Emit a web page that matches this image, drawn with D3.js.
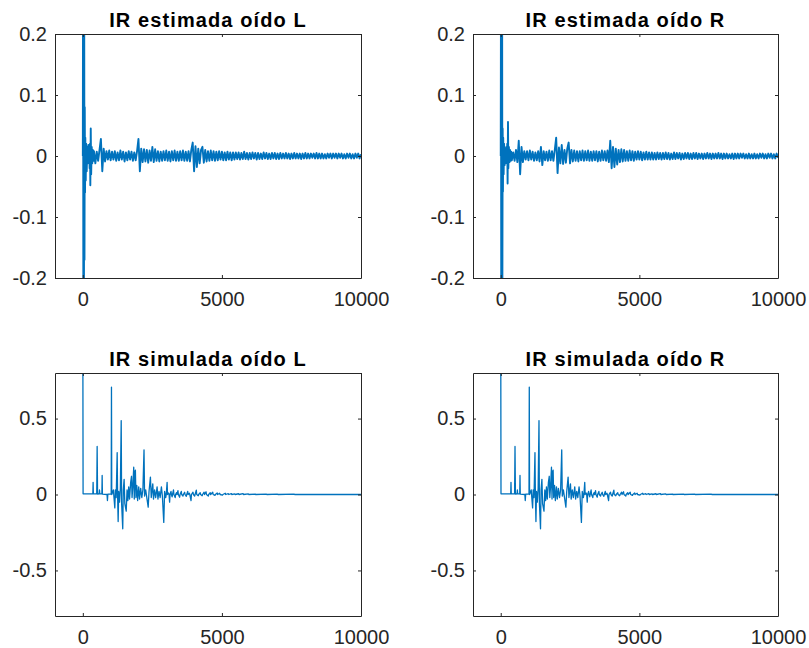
<!DOCTYPE html>
<html>
<head>
<meta charset="utf-8">
<script src="https://cdn.jsdelivr.net/npm/d3@7"></script>
<style>
  body { margin: 0; background: #fff; }
  text { font-family: "Liberation Sans", Arial, Helvetica, sans-serif; }
</style>
</head>
<body>
<div id="container"></div>
<script>
/* CONSTANTS AND GLOBALS */
const width = 809,
  height = 648;

const lineColor = "#0072BD",
  axisColor = "#262626";

// tick values / labels
const xTicks = [0, 5000, 10000];
const yTicksEst = [-0.2, -0.1, 0, 0.1, 0.2];
const yTicksSim = [-0.5, 0, 0.5];
const xDomain = [-1000, 10000];
const yDomainEst = [-0.2, 0.2];
const yDomainSim = [-0.8, 0.8];

const titles = ["IR estimada oído L", "IR estimada oído R", "IR simulada oído L", "IR simulada oído R"];

/* DATA */
// estimated IR, left ear: first samples as [sample, value]
const estLHead = [[0, 0], [10, 0.35], [20, -0.35], [30, 0.3], [40, -0.3], [50, 0.25], [60, -0.17], [70, 0.08],
  [80, -0.06], [90, 0.03], [105, -0.04], [120, 0.02], [140, -0.025], [160, 0.015], [180, -0.012], [200, 0.018],
  [215, -0.01], [230, 0.012], [245, -0.02], [258, 0.02], [270, -0.048], [285, 0.045], [300, -0.03], [320, 0.015],
  [340, -0.012], [360, 0.01], [380, -0.008]];
// rest of the left ear IR, one value every 50 samples from 400
const estLTail = [
  0.008, -0.012, 0.007, -0.008, 0.01, 0.028, -0.025, 0.012, -0.009, 0.008,
  -0.006, 0.009, -0.007, 0.007, -0.006, 0.008, -0.008, 0.006, -0.007, 0.009,
  -0.006, 0.007, -0.009, 0.006, -0.007, 0.008, -0.006, 0.007, -0.008, 0.006,
  -0.007, 0.008, 0.028, -0.025, 0.012, -0.01, 0.011, -0.009, 0.01, -0.011,
  0.009, -0.008, 0.015, -0.01, 0.011, -0.008, 0.008, -0.009, 0.007, -0.008,
  0.008, -0.007, 0.009, -0.008, 0.007, -0.009, 0.008, -0.007, 0.009, -0.008,
  0.007, -0.008, 0.008, -0.007, 0.009, -0.008, 0.007, -0.008, 0.008, -0.009,
  0.01, 0.022, -0.025, 0.016, -0.018, 0.012, -0.012, 0.01, 0.015, -0.011,
  0.01, -0.009, 0.008, -0.008, 0.009, -0.007, 0.008, -0.008, 0.007, -0.007,
  0.008, -0.006, 0.007, -0.007, 0.006, -0.007, 0.007, -0.006, 0.006, -0.007,
  0.006, -0.006, 0.006, -0.005, 0.006, -0.006, 0.005, -0.005, 0.007, -0.005,
  0.005, -0.006, 0.005, -0.005, 0.006, -0.004, 0.005, -0.006, 0.005, -0.005,
  0.004, -0.005, 0.006, -0.004, 0.005, -0.005, 0.004, -0.005, 0.005, -0.004,
  0.005, -0.005, 0.004, -0.005, 0.005, -0.004, 0.004, -0.004, 0.005, -0.004,
  0.004, -0.005, 0.004, -0.004, 0.005, -0.004, 0.004, -0.004, 0.004, -0.005,
  0.004, -0.004, 0.005, -0.004, 0.004, -0.004, 0.004, -0.003, 0.004, -0.004,
  0.005, -0.004, 0.004, -0.004, 0.004, -0.004, 0.003, -0.004, 0.004, -0.003,
  0.004, -0.004, 0.004, -0.003, 0.004, -0.004, 0.004, -0.003, 0.004, -0.004,
  0.003, -0.004, 0.004, -0.003, 0.004, -0.004, 0.003, -0.004, 0.004, -0.003,
  0.004, -0.004, 0.003
];

// estimated IR, right ear
const estRHead = [[0, 0], [10, 0.3], [20, -0.35], [30, 0.3], [40, -0.3], [50, 0.28], [60, -0.2], [70, 0.045],
  [80, -0.058], [90, 0.03], [105, -0.03], [120, 0.02], [140, -0.015], [160, 0.012], [180, -0.012], [200, 0.015],
  [220, -0.01], [235, 0.02], [248, -0.045], [262, 0.056], [275, -0.02], [295, 0.015], [315, -0.01], [335, 0.01],
  [355, -0.008], [378, 0.007]];
const estRTail = [
  -0.007, 0.006, -0.008, 0.01, -0.01, 0.025, -0.03, 0.015, -0.01, 0.008,
  -0.006, 0.008, -0.007, 0.009, -0.006, 0.007, -0.008, 0.006, -0.007, 0.008,
  -0.009, 0.015, -0.015, 0.008, -0.007, 0.007, -0.008, 0.009, -0.007, 0.008,
  -0.008, 0.01, 0.03, -0.028, 0.014, -0.012, 0.018, -0.013, 0.01, -0.011,
  0.012, 0.022, -0.012, 0.01, -0.009, 0.009, -0.008, 0.008, -0.009, 0.008,
  -0.007, 0.009, -0.008, 0.008, -0.007, 0.009, -0.008, 0.007, -0.008, 0.008,
  -0.007, 0.008, -0.009, 0.007, -0.008, 0.009, -0.007, 0.008, -0.008, 0.009,
  -0.01, 0.025, -0.02, 0.015, -0.018, 0.012, -0.014, 0.01, -0.01, 0.011,
  -0.009, 0.01, -0.008, 0.008, -0.008, 0.009, -0.007, 0.008, -0.008, 0.007,
  -0.006, 0.008, -0.006, 0.007, -0.007, 0.006, -0.006, 0.007, -0.006, 0.006,
  -0.006, 0.006, -0.006, 0.005, -0.006, 0.006, -0.005, 0.005, -0.006, 0.005,
  -0.005, 0.006, -0.005, 0.005, -0.006, 0.004, -0.005, 0.006, -0.005, 0.005,
  -0.004, 0.005, -0.006, 0.004, -0.005, 0.005, -0.004, 0.005, -0.005, 0.004,
  -0.005, 0.005, -0.004, 0.005, -0.005, 0.004, -0.004, 0.004, -0.005, 0.004,
  -0.004, 0.005, -0.004, 0.004, -0.005, 0.004, -0.004, 0.004, -0.004, 0.005,
  -0.004, 0.004, -0.005, 0.004, -0.004, 0.004, -0.004, 0.003, -0.004, 0.004,
  -0.005, 0.004, -0.004, 0.004, -0.004, 0.004, -0.003, 0.004, -0.004, 0.003,
  -0.004, 0.004, -0.004, 0.003, -0.004, 0.004, -0.004, 0.003, -0.004, 0.004,
  -0.003, 0.004, -0.004, 0.003, -0.004, 0.004, -0.003, 0.004, -0.004, 0.003,
  -0.004, 0.004, -0.003
];
const tailStart = 400, tailStep = 50;

// simulated IR (both ears look the same)
const simulated = [[1, 1.0], [10, 0.005], [300, 0.004], [360, 0.004], [370, 0.08], [380, 0.004], [500, 0.004],
  [515, 0.316], [530, 0.003], [590, 0.005], [600, 0.03], [610, 0.004], [685, 0.004], [695, 0.125], [705, 0.002],
  [870, 0.0], [885, -0.04], [900, 0.002], [1020, 0.003], [1030, 0.707], [1040, 0.0], [1100, 0.03], [1120, -0.02],
  [1150, -0.088], [1170, 0.03], [1200, -0.02], [1235, 0.276], [1250, 0.0], [1270, -0.178], [1290, 0.02],
  [1320, -0.05], [1350, 0.04], [1380, 0.487], [1395, -0.06], [1435, -0.226], [1455, 0.03], [1485, 0.1],
  [1510, -0.06], [1560, -0.11], [1590, 0.03], [1620, -0.04], [1650, 0.05], [1680, -0.03], [1720, 0.08],
  [1750, 0.12], [1770, -0.02], [1800, 0.06], [1830, 0.18], [1850, -0.03], [1870, 0.15], [1890, 0.16],
  [1910, -0.02], [1940, 0.06], [1970, -0.04], [2010, 0.05], [2040, -0.03], [2080, 0.04], [2120, -0.02],
  [2160, 0.03], [2200, 0.294], [2220, -0.01], [2260, 0.03], [2300, -0.02], [2350, -0.083], [2380, 0.02],
  [2430, 0.115], [2460, -0.02], [2490, 0.03], [2515, 0.07], [2540, -0.03], [2580, 0.03], [2620, -0.02],
  [2670, 0.05], [2700, -0.03], [2740, 0.02], [2780, -0.02], [2825, 0.05], [2860, -0.01], [2910, -0.184],
  [2940, 0.02], [2980, -0.02], [3000, 0.0], [3030, 0.08], [3045, 0.0], [3080, 0.01], [3100, 0.0],
  [3120, -0.05], [3135, 0.0], [3170, 0.02], [3185, 0.0], [3210, -0.015], [3225, 0.0], [3260, 0.03],
  [3275, 0.0], [3320, -0.02], [3335, 0.0], [3370, 0.012], [3385, 0.0], [3420, 0.025], [3435, 0.0],
  [3480, -0.018], [3495, 0.0], [3540, 0.02], [3555, 0.0], [3600, -0.01], [3615, 0.0], [3660, 0.015],
  [3675, 0.0], [3720, -0.012], [3735, 0.0], [3770, 0.02], [3785, 0.0], [3830, 0.008], [3845, 0.0],
  [3890, -0.04], [3905, 0.0], [3960, 0.015], [3975, 0.0], [4020, -0.01], [4035, 0.0], [4080, 0.028],
  [4095, 0.0], [4150, -0.008], [4165, 0.0], [4220, 0.012], [4235, 0.0], [4290, -0.008], [4305, 0.0],
  [4360, 0.015], [4375, 0.0], [4430, 0.018], [4445, 0.0], [4510, -0.01], [4525, 0.0], [4580, 0.012],
  [4595, 0.0], [4670, 0.015], [4685, 0.0], [4750, -0.006], [4765, 0.0], [4830, 0.01], [4845, 0.0],
  [4920, 0.008], [4935, 0.0], [5020, -0.004], [5035, 0.0], [5120, 0.008], [5135, 0.0], [5230, 0.005],
  [5245, 0.0], [5340, 0.006], [5355, 0.0], [5460, 0.004], [5475, 0.0], [5600, 0.005], [5615, 0.0],
  [5760, 0.006], [5775, 0.0], [5950, 0.004], [5965, 0.0], [6200, 0.003], [6215, 0.0], [6600, 0.002],
  [6615, 0.0], [7000, 0.002], [7015, 0.0], [7600, 0.002], [7615, 0.0], [10000, 0]];

// panel boxes in pixels
const panels = [
  { left: 55, right: 361, top: 34, bottom: 278 },
  { left: 473, right: 778, top: 34, bottom: 278 },
  { left: 55, right: 361, top: 373, bottom: 616 },
  { left: 473, right: 778, top: 373, bottom: 616 }
];

const withTail = (head, tail) => head.concat(tail.map((v, i) => [tailStart + i * tailStep, v]));

const series = [
  withTail(estLHead, estLTail),
  withTail(estRHead, estRTail),
  simulated,
  simulated
];

const svg = d3.select("#container")
  .append("svg")
  .attr("width", width)
  .attr("height", height)
  .style("background", "#fff");

panels.forEach((p, i) => {
  const isEst = i < 2;
  const xScale = d3.scaleLinear().domain(xDomain).range([p.left, p.right]);
  const yScale = d3.scaleLinear().domain(isEst ? yDomainEst : yDomainSim).range([p.bottom, p.top]);
  const yTicks = isEst ? yTicksEst : yTicksSim;

  const g = svg.append("g").attr("class", "panel");

  // clip so the big direct-sound spike is cut at the axes like in matlab
  g.append("clipPath")
    .attr("id", "clip" + i)
    .append("rect")
    .attr("x", p.left)
    .attr("y", p.top)
    .attr("width", p.right - p.left)
    .attr("height", p.bottom - p.top);

  const lineGen = d3.line()
    .x(d => xScale(d[0]))
    .y(d => yScale(d[1]));

  g.append("path")
    .datum(series[i])
    .attr("clip-path", `url(#clip${i})`)
    .attr("d", lineGen)
    .attr("fill", "none")
    .attr("stroke", lineColor)
    .attr("stroke-width", isEst ? 1.9 : 1.3)
    .attr("stroke-linejoin", "round");

  // + AXES (ticks inside, box on)
  const fmt = d => String(d);
  const styleAxis = sel => {
    sel.selectAll("path.domain").attr("stroke", axisColor).attr("stroke-width", 1);
    sel.selectAll(".tick line").attr("stroke", axisColor).attr("stroke-width", 1);
    sel.selectAll(".tick text")
      .attr("fill", axisColor)
      .style("font-size", "20px")
      .style("font-family", "'Liberation Sans', Arial, sans-serif");
  };

  g.append("g")
    .attr("transform", `translate(0, ${p.bottom})`)
    .call(d3.axisBottom(xScale).tickValues(xTicks).tickFormat(fmt).tickSizeInner(-3).tickSizeOuter(0).tickPadding(14))
    .call(styleAxis);
  g.append("g")
    .attr("transform", `translate(0, ${p.top})`)
    .call(d3.axisTop(xScale).tickValues(xTicks).tickFormat("").tickSizeInner(-3).tickSizeOuter(0))
    .call(styleAxis);
  g.append("g")
    .attr("transform", `translate(${p.left}, 0)`)
    .call(d3.axisLeft(yScale).tickValues(yTicks).tickFormat(fmt).tickSizeInner(-3).tickSizeOuter(0).tickPadding(8))
    .call(styleAxis);
  g.append("g")
    .attr("transform", `translate(${p.right}, 0)`)
    .call(d3.axisRight(yScale).tickValues(yTicks).tickFormat("").tickSizeInner(-3).tickSizeOuter(0))
    .call(styleAxis);

  // title
  g.append("text")
    .attr("x", (p.left + p.right) / 2)
    .attr("y", p.top - 7)
    .attr("text-anchor", "middle")
    .attr("font-weight", "bold")
    .attr("font-size", 20)
    .attr("letter-spacing", 1.1)
    .attr("fill", "#000")
    .text(titles[i]);
});
</script>
</body>
</html>
